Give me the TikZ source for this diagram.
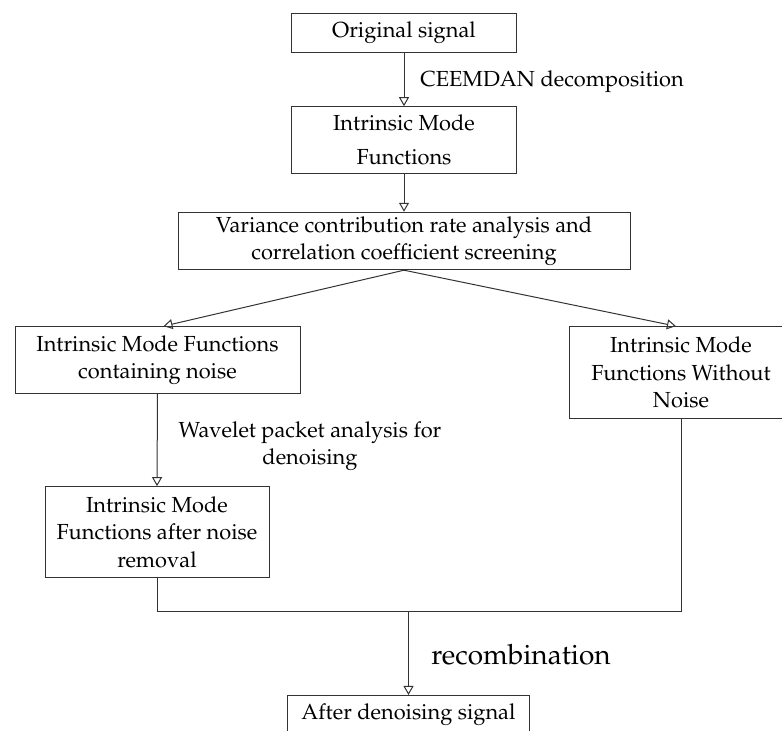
\documentclass[tikz,border=0pt]{standalone}
\usepackage[T1]{fontenc}
\usepackage{mathpazo}
\usepackage{tikz}
\usetikzlibrary{positioning, arrows.meta}

\begin{document}
\begin{tikzpicture}[
    x=0.5pt, y=0.5pt,
    stepbox/.style={rectangle, draw=black!80, line width=0.5pt, align=center, inner sep=2pt, font=\fontsize{10.9}{13.75}\selectfont},
    note/.style={align=center, inner sep=0pt, font=\fontsize{10.9}{13.75}\selectfont},
    arrow/.style={-{Triangle[open, length=4.5pt, width=5pt]}, draw=black!80, line width=0.5pt},
    link/.style={draw=black!80, line width=0.5pt}
]
\useasboundingbox (0,0) rectangle (782,731);

% Kette oben
\node[stepbox, minimum width=112.5pt, minimum height=19.5pt] (orig) at (404,698.3) {Original signal};
\node[stepbox, minimum width=112.5pt, minimum height=33.3pt, font=\fontsize{10.9}{17}\selectfont] (imf) at (404,591) {Intrinsic Mode\\Functions};
\node[stepbox, minimum width=226pt, minimum height=28pt] (screen) at (404,490) {Variance contribution rate analysis and\\correlation coefficient screening};

\draw[arrow] (orig.south) -- (imf.north);
\node[note, anchor=west] (ceemdan) at (420,649) {CEEMDAN decomposition};
\draw[arrow] (imf.south) -- (screen.north);

% Zwei Zweige
\node[stepbox, minimum width=142.5pt, minimum height=33.3pt] (noisy) at (157.5,371) {Intrinsic Mode Functions\\containing noise};
\node[stepbox, minimum width=112pt, minimum height=45.8pt] (clean) at (681,358.5) {Intrinsic Mode\\Functions Without\\Noise};

\draw[arrow] (screen.south) -- ([xshift=3pt]noisy.north);
\draw[arrow] (screen.south) -- ([xshift=-2.5pt]clean.north);

% Entrauschen
\node[stepbox, minimum width=112pt, minimum height=45.5pt] (denoised) at (157,198.8) {Intrinsic Mode\\Functions after noise\\removal};
\draw[arrow] (noisy.south) -- (denoised.north);
\node[note] (wavelet) at (310,285) {Wavelet packet analysis for\\denoising};

% Zusammenfuehren
\coordinate (join) at (408.5,119.3);
\node[stepbox, minimum width=121pt, minimum height=19.5pt] (final) at (408.5,16) {After denoising signal};

\draw[link] (denoised.south) |- (join) -| (clean.south);
\draw[arrow] (join) -- (final.north);
\node[note, anchor=west, font=\fontsize{14}{17}\selectfont] (recomb) at (431,76) {recombination};

\end{tikzpicture}
\end{document}
